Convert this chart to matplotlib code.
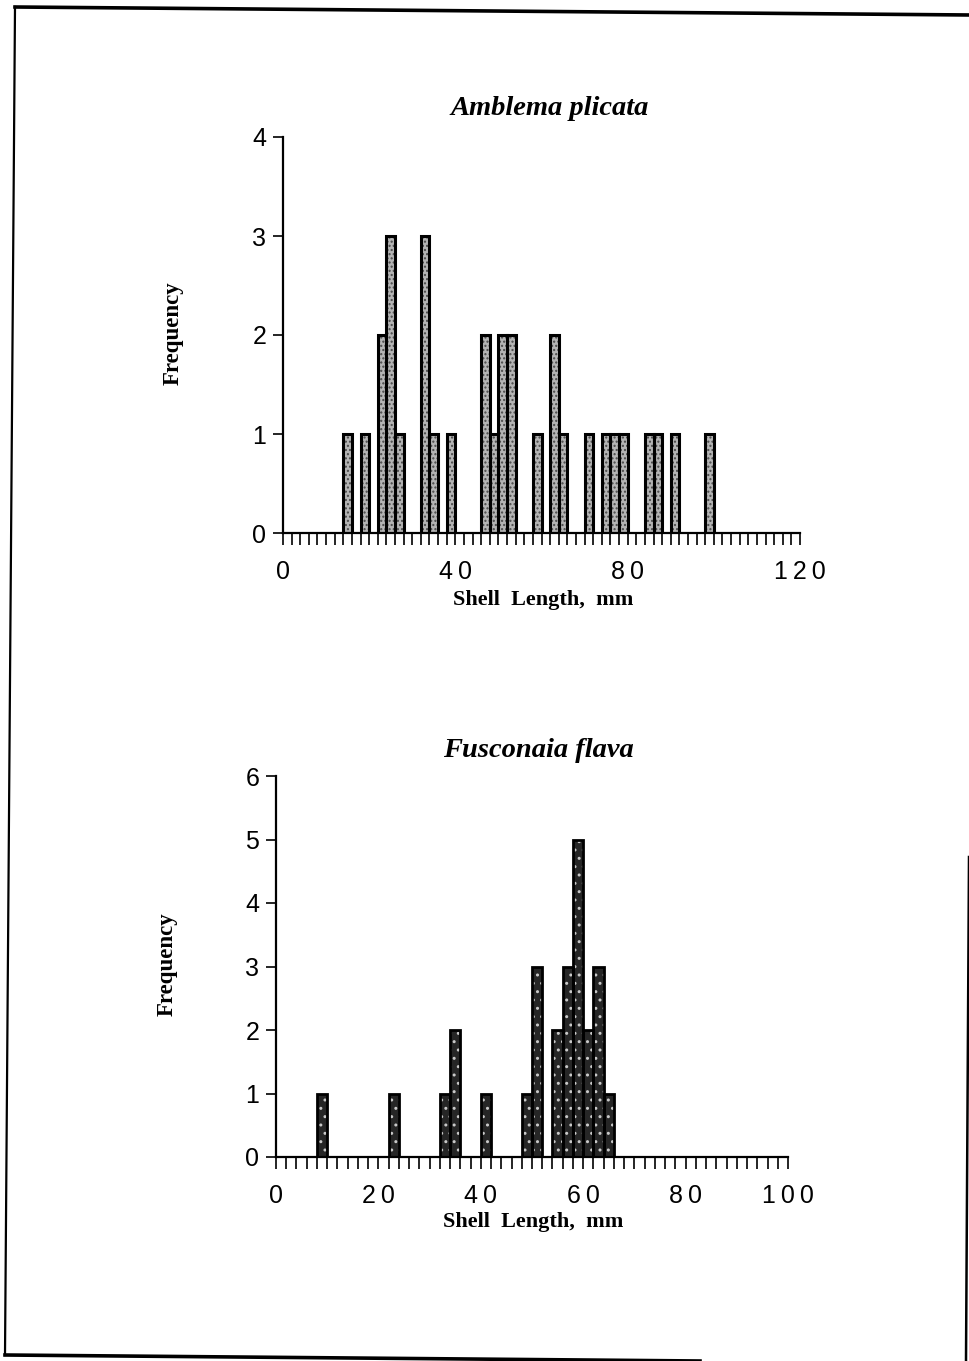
import numpy as np
import matplotlib
matplotlib.use("Agg")
import matplotlib.pyplot as plt
from matplotlib.lines import Line2D

# shell length bins (left edge, mm) and counts
amblema_bins = [14, 18, 22, 24, 26, 32, 34, 38, 46, 48, 50, 52, 58, 62, 64,
                70, 74, 76, 78, 84, 86, 90, 98]
amblema_freq = [1, 1, 2, 3, 1, 3, 1, 1, 2, 1, 2, 2, 1, 2, 1,
                1, 1, 1, 1, 1, 1, 1, 1]

fusconaia_bins = [8, 22, 32, 34, 40, 48, 50, 54, 56, 58, 60, 62, 64]
fusconaia_freq = [1, 1, 1, 2, 1, 1, 3, 2, 3, 5, 2, 3, 1]

amblema_xlabels = [0, 40, 80, 120]
fusconaia_xlabels = [0, 20, 40, 60, 80, 100]

W, H = 970, 1361
fig = plt.figure(figsize=(W / 100, H / 100), dpi=100)
fig.patch.set_facecolor("white")

SANS = "Liberation Sans"
SERIF = "Liberation Serif"


def spaced(v):
    return "\u2009".join(str(v))


def style_axes(ax, xmax, ymax, labelled):
    ax.set_xlim(0, xmax)
    ax.set_ylim(0, ymax)
    for s in ["top", "right"]:
        ax.spines[s].set_visible(False)
    for s in ["left", "bottom"]:
        ax.spines[s].set_linewidth(1.6)
    ticks = np.arange(0, xmax + 1, 2)
    ax.set_xticks(ticks)
    ax.set_xticklabels([spaced(t) if t in labelled else "" for t in ticks],
                       fontfamily=SANS, fontsize=18)
    ax.set_yticks(range(ymax + 1))
    ax.set_yticklabels([str(v) for v in range(ymax + 1)],
                       fontfamily=SANS, fontsize=18)
    ax.tick_params(axis="x", direction="out", length=8.5, width=1.2, pad=11)
    ax.tick_params(axis="y", direction="out", length=7, width=1.2, pad=5)
    ax.text(0.503, -0.17, "Shell  Length,  mm", transform=ax.transAxes,
            ha="center", va="center", fontfamily=SERIF, fontweight="bold",
            fontsize=16)
    ax.text(-0.212, 0.505, "Frequency", transform=ax.transAxes, rotation=90,
            ha="center", va="center", fontfamily=SERIF, fontweight="bold",
            fontsize=16.5)


# top panel: Amblema plicata
ax1 = fig.add_axes([283 / W, 1 - 533 / H, 517 / W, 396 / H])
ax1.bar(amblema_bins, amblema_freq, width=2, align="edge",
        color="#b4b4b4", edgecolor="#4a4a4a", hatch="....", linewidth=0,
        zorder=2)
ax1.bar(amblema_bins, amblema_freq, width=2, align="edge",
        fill=False, edgecolor="black", linewidth=2.2, zorder=3)
style_axes(ax1, 120, 4, amblema_xlabels)
ax1.text(0.516, 1.073, "Amblema plicata", transform=ax1.transAxes,
         ha="center", va="center", fontfamily=SERIF, fontweight="bold",
         fontstyle="italic", fontsize=20.5)

# bottom panel: Fusconaia flava
ax2 = fig.add_axes([276 / W, 1 - 1157 / H, 512 / W, 381 / H])
ax2.bar(fusconaia_bins, fusconaia_freq, width=2, align="edge",
        color="#262626", edgecolor="#c8c8c8", hatch="..", linewidth=0,
        zorder=2)
ax2.bar(fusconaia_bins, fusconaia_freq, width=2, align="edge",
        fill=False, edgecolor="black", linewidth=2.0, zorder=3)
style_axes(ax2, 100, 6, fusconaia_xlabels)
ax2.text(0.512, 1.068, "Fusconaia flava", transform=ax2.transAxes,
         ha="center", va="center", fontfamily=SERIF, fontweight="bold",
         fontstyle="italic", fontsize=20.5)

# scanned page frame
def frame(x0, y0, x1, y1, lw):
    fig.add_artist(Line2D([x0 / W, x1 / W], [1 - y0 / H, 1 - y1 / H],
                          transform=fig.transFigure, color="black",
                          linewidth=lw))

frame(15, 7, 970, 15, 2.6)
frame(15, 7, 5, 1355, 1.6)
frame(5, 1355, 700, 1361, 2.6)
frame(969, 857, 966, 1361, 1.8)

fig.savefig("out.png", dpi=100)
